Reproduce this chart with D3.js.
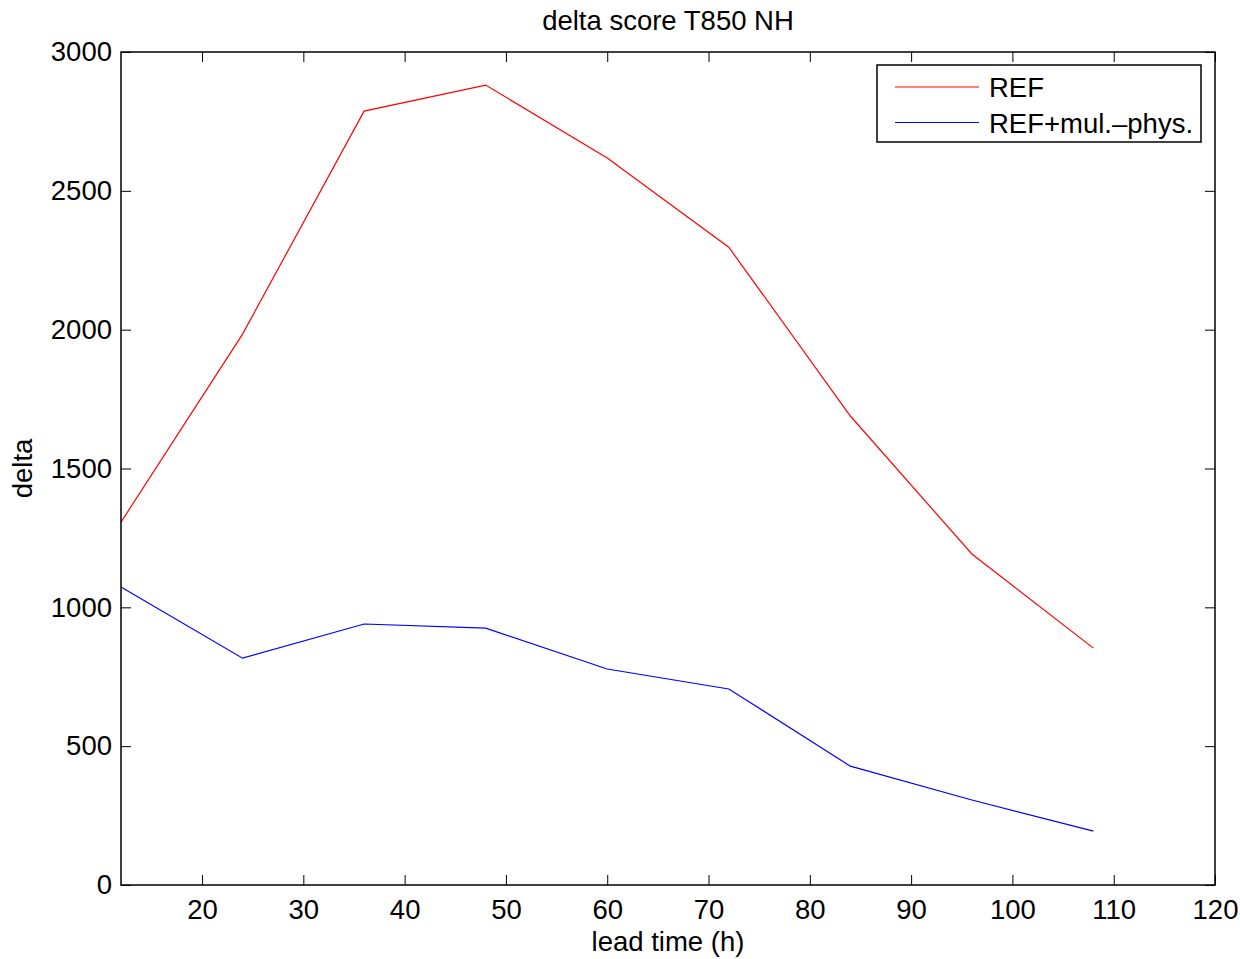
<!DOCTYPE html>
<html><head><meta charset="utf-8">
<script src="https://cdn.jsdelivr.net/npm/d3@7"></script>
<style>body{margin:0;background:#fff}svg{display:block}text{font-family:"Liberation Sans",Arial,sans-serif;fill:#000}</style>
</head><body>
<svg id="c" width="1240" height="959"></svg>
<script>
const leadTimes = [12, 24, 36, 48, 60, 72, 84, 96, 108];
const refValues = [1307, 1984, 2787, 2881, 2618, 2297, 1689, 1192, 853];
const mulPhysValues = [1073, 817, 940, 925, 778, 706, 428, 306, 194];
const xTicks = [20, 30, 40, 50, 60, 70, 80, 90, 100, 110, 120];
const yTicks = [0, 500, 1000, 1500, 2000, 2500, 3000];
const seriesNames = ["REF", "REF+mul.\u2013phys."];
const seriesColors = ["#ff0000", "#0000ff"];

const svg = d3.select("#c");
const L = 121, R = 1215, T = 52, B = 885;
const x = d3.scaleLinear().domain([12, 120]).range([L, R]);
const y = d3.scaleLinear().domain([0, 3000]).range([B, T]);
const fs = 27.5;

svg.append("rect").attr("x", L).attr("y", T).attr("width", R - L).attr("height", B - T).attr("fill", "#fff");

const line = d3.line().x((d, i) => x(leadTimes[i])).y(d => y(d));
[refValues, mulPhysValues].forEach((vals, k) => {
  svg.append("path").datum(vals).attr("d", line).attr("fill", "none")
    .attr("stroke", seriesColors[k]).attr("stroke-width", 1.2);
});

// axes with inward ticks
const tickLen = 10;
const gB = svg.append("g").attr("transform", `translate(0,${B})`)
  .call(d3.axisBottom(x).tickValues(xTicks).tickSize(-tickLen).tickPadding(14).tickFormat(d3.format("d")));
const gT = svg.append("g").attr("transform", `translate(0,${T})`)
  .call(d3.axisTop(x).tickValues(xTicks).tickSize(-tickLen).tickFormat(""));
const gL = svg.append("g").attr("transform", `translate(${L},0)`)
  .call(d3.axisLeft(y).tickValues(yTicks).tickSize(-tickLen).tickPadding(9).tickFormat(d3.format("d")));
const gR = svg.append("g").attr("transform", `translate(${R},0)`)
  .call(d3.axisRight(y).tickValues(yTicks).tickSize(-tickLen).tickFormat(""));
[gB, gT, gL, gR].forEach(g => {
  g.select(".domain").remove();
  g.selectAll(".tick line").attr("stroke", "#000").attr("stroke-width", 1);
  g.selectAll("text").style("font-size", fs + "px").style("font-family", '"Liberation Sans",Arial,sans-serif').attr("fill", "#000");
});
svg.append("rect").attr("x", L).attr("y", T).attr("width", R - L).attr("height", B - T)
  .attr("fill", "none").attr("stroke", "#000").attr("stroke-width", 1.5);

svg.append("text").attr("x", 668).attr("y", 30).attr("text-anchor", "middle").style("font-size", fs + "px").text("delta score T850 NH");
svg.append("text").attr("x", 668).attr("y", 951).attr("text-anchor", "middle").style("font-size", fs + "px").text("lead time (h)");
svg.append("text").attr("transform", `translate(32,${(T + B) / 2}) rotate(-90)`).attr("text-anchor", "middle").style("font-size", fs + "px").text("delta");

// legend
const lg = svg.append("g");
lg.append("rect").attr("x", 877).attr("y", 65).attr("width", 324).attr("height", 77)
  .attr("fill", "#fff").attr("stroke", "#000").attr("stroke-width", 1.5);
seriesNames.forEach((n, i) => {
  const yy = 87 + i * 35.5;
  lg.append("line").attr("x1", 895).attr("x2", 979).attr("y1", yy).attr("y2", yy)
    .attr("stroke", seriesColors[i]).attr("stroke-width", 1.2);
  lg.append("text").attr("x", 989).attr("y", yy + 10).style("font-size", fs + "px").text(n);
});
</script>
</body></html>
